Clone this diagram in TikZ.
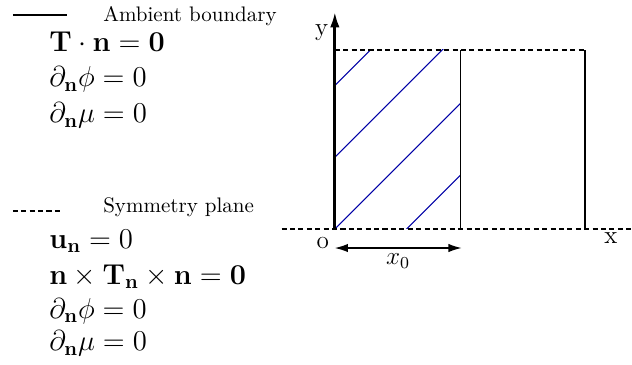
\documentclass[tikz,border=0pt]{standalone}
\usepackage{amsmath,amssymb}
\usepackage{graphicx}
\usepackage{tikz}
\usetikzlibrary{arrows.meta,positioning}
\newcommand{\eqsize}[1]{\scalebox{0.95}{\Large #1}}

\begin{document}
\begin{tikzpicture}[
  symline/.style={line width=0.9pt,dash pattern=on 2.4pt off 1.6pt},
  wallline/.style={line width=1.3pt},
  hatchline/.style={blue!65!black,line width=0.5pt},
  eqn/.style={anchor=base west,inner sep=0pt},
  legtext/.style={anchor=base west,inner sep=0pt},
  axlabel/.style={font=\large}]
 \useasboundingbox (-5.60,-2.27) rectangle (4.97,3.83);
 % domain corners
 \coordinate (O) at (0,0);
 \coordinate (xzero) at (2.1,0);
 \coordinate (xfar) at (4.183,0);
 \coordinate (Otop) at (0,3);
 \coordinate (xzerotop) at (2.1,3);
 \coordinate (xfartop) at (4.183,3);
 \coordinate (ytip) at (0,3.63);
 \coordinate (symleft) at (-0.89,0);
 \coordinate (symright) at (4.97,0);
 % hatched region
 \begin{scope}
  \clip (O) rectangle (xzerotop);
  \foreach \c in {-1.2,0,1.2,2.4}
   \draw[hatchline] (0,\c) -- ++(3.6,3.6);
 \end{scope}
 \draw[symline] (symleft) -- (symright);
 \draw[symline] (Otop) -- (xfartop);
 \draw[line width=0.5pt] (xzero) -- (xzerotop);
 \draw[wallline] (xfar) -- (xfartop);
 \draw[wallline,-{Latex[length=2.6mm,width=1.6mm]}] (O) -- (ytip);
 \node[axlabel] (ylab) at (-0.22,3.29) {y};
 \node[axlabel] (olab) at (-0.2,-0.234) {o};
 \node[axlabel] (xlab) at (4.615,-0.15) {x};
 \coordinate (arrL) at (0,-0.318);
 \coordinate (arrR) at (2.12,-0.318);
 \draw[line width=0.6pt,{Latex[length=2.2mm,width=1.4mm]}-{Latex[length=2.2mm,width=1.4mm]}] (arrL) -- (arrR)
   node[midway,below=-1pt,font=\large] (xzerolab) {$x_0$};
 % legend: ambient boundary
 \draw[line width=1pt] (-5.385,3.58) -- (-4.482,3.58);
 \node[legtext] (ambient) at (-3.88,3.467) {Ambient boundary};
 \node[eqn] (atn) at (-4.78,2.965) {\eqsize{$\mathbf{T}\cdot\mathbf{n}=\mathbf{0}$}};
 \node[eqn] (aphi) at (-4.78,2.375) {\eqsize{$\partial_{\mathbf{n}}\phi=0$}};
 \node[eqn] (amu) at (-4.78,1.773) {\eqsize{$\partial_{\mathbf{n}}\mu=0$}};
 % legend: symmetry plane
 \draw[symline] (-5.385,0.30) -- (-4.565,0.30);
 \node[legtext] (symm) at (-3.88,0.268) {Symmetry plane};
 \node[eqn] (sun) at (-4.78,-0.318) {\eqsize{$\mathbf{u}_{\mathbf{n}}=0$}};
 \node[eqn] (snt) at (-4.78,-0.92) {\eqsize{$\mathbf{n}\times\mathbf{T}_{\mathbf{n}}\times\mathbf{n}=\mathbf{0}$}};
 \node[eqn] (sphi) at (-4.78,-1.49) {\eqsize{$\partial_{\mathbf{n}}\phi=0$}};
 \node[eqn] (smu) at (-4.78,-2.04) {\eqsize{$\partial_{\mathbf{n}}\mu=0$}};
\end{tikzpicture}
\end{document}
